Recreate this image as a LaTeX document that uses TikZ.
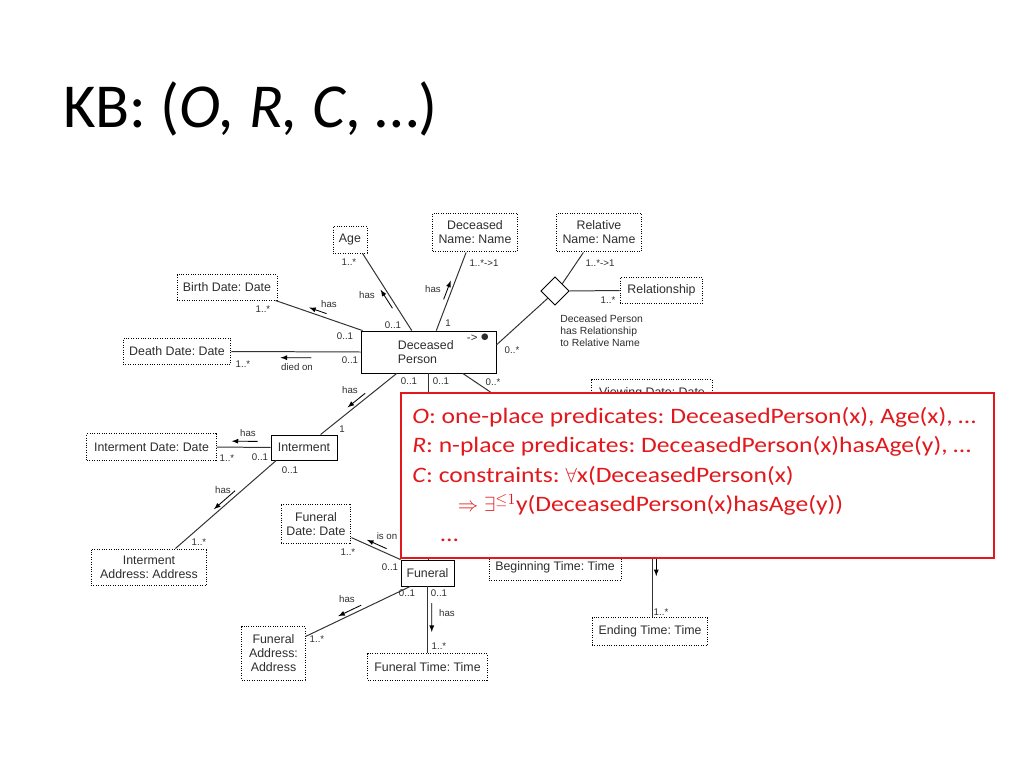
\documentclass[tikz,border=0pt]{standalone}
\usepackage{fontspec}
\setmainfont{Carlito}
\newfontfamily\diagfont{Liberation Sans}
\newfontfamily\kbfont[FakeStretch=1.16]{Carlito}
\usepackage{tikz}
\usetikzlibrary{shapes,arrows,positioning,calc}
\frenchspacing
\definecolor{kbred}{RGB}{226,24,28}
\definecolor{ink}{RGB}{45,45,45}
\tikzstyle{entity} = [draw=black, line width=0.6pt, text=ink, font=\diagfont\fontsize{8.7}{9.8}\selectfont, align=center, inner sep=0pt]
\tikzstyle{attr} = [draw=black, densely dotted, line width=0.7pt, text=ink, font=\diagfont\fontsize{8.7}{9.8}\selectfont, align=center, inner sep=0pt]
\tikzstyle{mult} = [text=ink, font=\diagfont\fontsize{6.8}{7.5}\selectfont, inner sep=0pt]
\tikzstyle{textonly} = [draw=none, fill=none, inner sep=0pt]
\tikzstyle{kbbox} = [draw=kbred, fill=white, line width=1.4pt]
\tikzstyle{kbtext} = [textonly, text=kbred, align=left, font=\kbfont\fontsize{15.5}{20.7}\selectfont]
\tikzstyle{tedge} = [draw, black!80, line width=0.7pt]
\tikzstyle{darr} = [draw, black, line width=0.6pt, >=latex, ->]
% small "has" arrow beside a connector: from, to, start, end, offset, side
\newcommand{\hasarr}[6]{\path[darr] ($(#1)!#3!(#2)!#5!#6:(#2)$) -- ($(#1)!#4!(#2)!#5!#6:(#2)$);}

\begin{document}
\begin{tikzpicture}[x=0.703pt, y=-0.703pt]
\useasboundingbox (0,0) rectangle (1024,768);

\node[textonly, anchor=base west, font=\fontsize{44}{53}\selectfont] (title) at (63,127) {KB: (\textit{O, R, C}, …)};

% boxes =============================
\node[attr, minimum width=23.9pt, minimum height=18.3pt] (age) at (350,240) {Age};
\node[attr, minimum width=59.1pt, minimum height=27.4pt] (dname) at (475,232.5) {Deceased\\Name: Name};
\node[attr, minimum width=59.1pt, minimum height=27.4pt] (rname) at (599,232.5) {Relative\\Name: Name};
\node[attr, minimum width=58.3pt, minimum height=17.6pt] (rel) at (661.5,290.5) {Relationship};
\node[diamond, draw, line width=0.6pt, aspect=1, minimum size=20pt, inner sep=0pt] (dia) at (555,291) {};
\node[textonly, anchor=north west, align=left, text=ink, font=\diagfont\fontsize{7.3}{8.4}\selectfont] (note) at (560,315) {Deceased Person\\has Relationship\\to Relative Name};
\node[attr, minimum width=70.3pt, minimum height=17.6pt] (bdate) at (227,287.5) {Birth Date: Date};
\node[attr, minimum width=75.9pt, minimum height=17.6pt] (ddate) at (177,351.5) {Death Date: Date};
\node[entity, minimum width=94.9pt, minimum height=29.5pt, text width=43pt, inner xsep=26pt, align=left] (dp) at (428.5,352) {Deceased\\Person};
\node[textonly, text=ink, font=\diagfont\fontsize{8}{9}\selectfont, below left=2pt and 5pt of dp.north east] (dptag) {->\;\large$\bullet$};
\node[entity, minimum width=46.4pt, minimum height=17.6pt] (interment) at (304,447.5) {Interment};
\node[attr, minimum width=90.7pt, minimum height=18.3pt] (idate) at (151.5,447) {Interment Date: Date};
\node[attr, minimum width=81.5pt, minimum height=25.3pt] (iaddr) at (149,567) {Interment\\Address: Address};
\node[attr, minimum width=49.2pt, minimum height=28.1pt] (fdate) at (316,524) {Funeral\\Date: Date};
\node[entity, minimum width=37.3pt, minimum height=18.3pt] (funeral) at (427.5,573) {Funeral};
\node[attr, minimum width=44.3pt, minimum height=37.3pt] (faddr) at (273.5,653.5) {Funeral\\Address:\\Address};
\node[attr, minimum width=83.7pt, minimum height=18.3pt] (ftime) at (427.5,667) {Funeral Time: Time};
\node[attr, minimum width=92.8pt, minimum height=18.3pt] (btime) at (555,567) {Beginning Time: Time};
\node[attr, minimum width=81.5pt, minimum height=19pt] (etime) at (650,631.5) {Ending Time: Time};
\node[attr, minimum width=84.4pt, minimum height=18.3pt] (vdate) at (652,393) {Viewing Date: Date};
\coordinate (hidA) at (520,412);
\coordinate (hidB) at (652,470);
\coordinate (hidBend) at (hidB |- etime.north);

% edges =============================
\path[tedge] (dp.128) -- (age.-47);
\path[tedge] (dp.70) -- (dname.-114);
\path[tedge] (dp.6) -- (dia.south west);
\path[tedge] (dia.north east) -- (rname.-128);
\path[tedge] (dia.east) -- (rel.west);
\path[tedge] (dp.162) -- (bdate.-15);
\path[tedge] (dp.west) -- (ddate.east);
\path[tedge] (dp.-146) -- (interment.38);
\path[tedge] (dp.south) -- (dp.south |- funeral.north);
\path[tedge] (dp.-32) -- (hidA);
\path[tedge] (interment.west) -- (idate.east);
\path[tedge] (interment.-155) -- (iaddr.35);
\path[tedge] (funeral.north west) -- (fdate.-21);
\path[tedge] (funeral.-142) -- (faddr.28);
\path[tedge] (funeral.south) -- (ftime.north);
\path[tedge] (hidB) -- (hidBend);

% arrows =============================
\hasarr{dp.128}{age.-47}{0.32}{0.56}{3pt}{90}
\hasarr{dp.70}{dname.-114}{0.38}{0.62}{3pt}{90}
\hasarr{dp.162}{bdate.-15}{0.43}{0.63}{3pt}{-90}
\hasarr{dp.west}{ddate.east}{0.38}{0.62}{4.2pt}{90}
\hasarr{dp.-146}{interment.38}{0.38}{0.61}{3pt}{-90}
\hasarr{interment.west}{idate.east}{0.24}{0.72}{4.2pt}{-90}
\hasarr{interment.-155}{iaddr.35}{0.38}{0.59}{3pt}{-90}
\hasarr{funeral.north west}{fdate.-21}{0.32}{0.72}{3pt}{-90}
\hasarr{funeral.-142}{faddr.28}{0.45}{0.67}{3pt}{-90}
\hasarr{funeral.south}{ftime.north}{0.25}{0.68}{3pt}{90}
\hasarr{hidB}{hidBend}{0.53}{0.72}{3pt}{90}

% labels =============================
\node[mult] (ageM) at (349,262) {1..*};
\node[mult] (ageDpM) at (393,325) {0..1};
\node[mult] (ageHas) at (367,295) {has};
\node[mult] (dnameM) at (484,263) {1..*->1};
\node[mult] (dnameDpM) at (448,323) {1};
\node[mult] (dnameHas) at (433,289) {has};
\node[mult] (rnameM) at (600,263) {1..*->1};
\node[mult] (relM) at (608,300) {1..*};
\node[mult] (diaDpM) at (512,350) {0..*};
\node[mult] (bdateM) at (263,309) {1..*};
\node[mult] (bdateDpM) at (345,336) {0..1};
\node[mult] (bdateHas) at (329,304) {has};
\node[mult] (ddateM) at (243,364) {1..*};
\node[mult] (ddateDpM) at (350,360) {0..1};
\node[mult] (ddateDied) at (297,367) {died on};
\node[mult] (intDpM) at (409,381) {0..1};
\node[mult] (funDpM) at (441,381) {0..1};
\node[mult] (hidDpM) at (493,382) {0..*};
\node[mult] (intHas) at (350,390) {has};
\node[mult] (intM) at (342,429) {1};
\node[mult] (idateHas) at (248,433) {has};
\node[mult] (idateM) at (227,458) {1..*};
\node[mult] (idateIntM) at (260,457) {0..1};
\node[mult] (iaddrIntM) at (290,470) {0..1};
\node[mult] (iaddrHas) at (223,490) {has};
\node[mult] (iaddrM) at (199,542) {1..*};
\node[mult] (fdateIs) at (387,536) {is on};
\node[mult] (fdateM) at (348,552) {1..*};
\node[mult] (fdateFunM) at (390,567) {0..1};
\node[mult] (faddrHas) at (347,599) {has};
\node[mult] (faddrFunM) at (407,593) {0..1};
\node[mult] (ftimeFunM) at (439,593) {0..1};
\node[mult] (ftimeHas) at (447,613) {has};
\node[mult] (faddrM) at (317,639) {1..*};
\node[mult] (ftimeM) at (439,646) {1..*};
\node[mult] (etimeHas) at (671,555) {has};
\node[mult] (etimeM) at (661,612) {1..*};

% knowledge base box =============================
\node[kbbox, anchor=north west, minimum width=416.9pt, minimum height=116pt] (kb) at (400,392) {};
\node[kbtext, anchor=north west] (kbtxt) at (412,407) {\textit{O}: one-place predicates: DeceasedPerson(x), Age(x), …\\
\textit{R}: n-place predicates: DeceasedPerson(x)hasAge(y), …\\
\textit{C}: constraints: $\forall$x(DeceasedPerson(x)\\
\hspace*{32pt}$\Rightarrow$ $\exists^{\le 1}$y(DeceasedPerson(x)hasAge(y))\\
\hspace*{20pt}…};

\end{tikzpicture}
\end{document}
